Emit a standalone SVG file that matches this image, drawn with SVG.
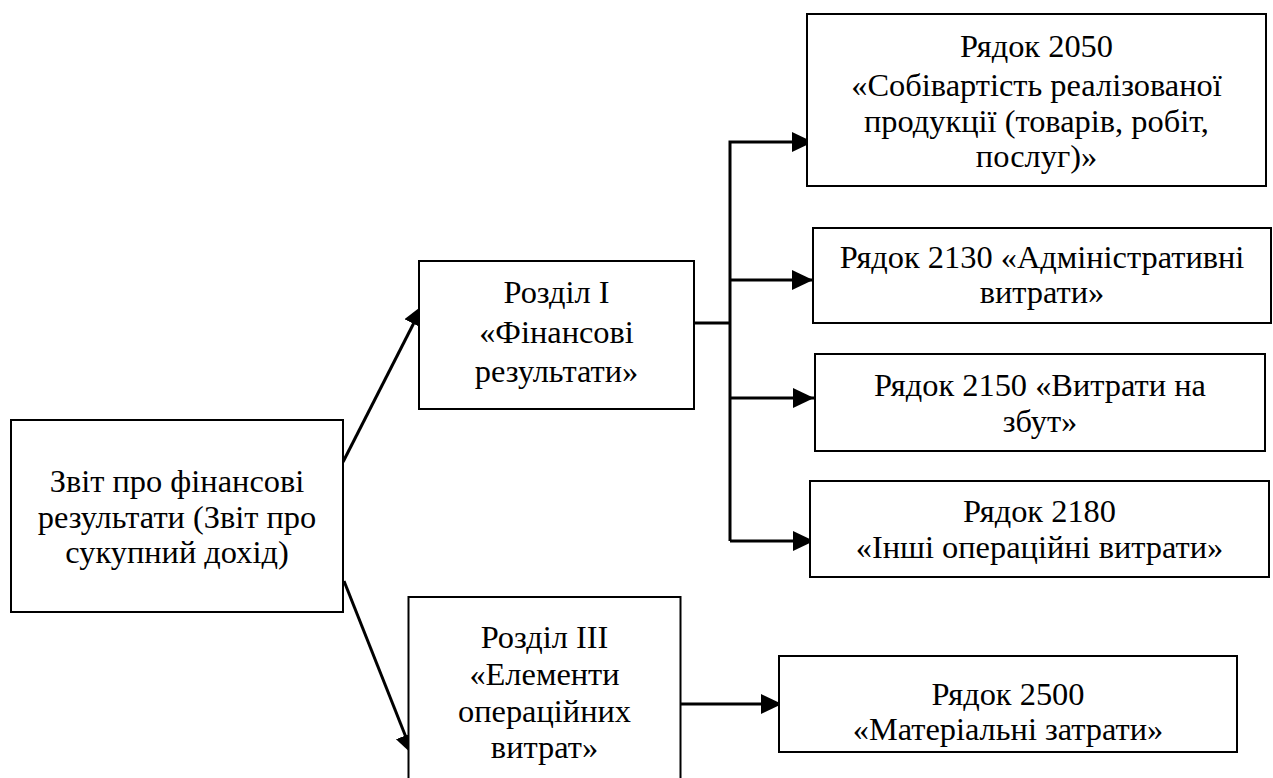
<svg xmlns="http://www.w3.org/2000/svg" width="1273" height="778" viewBox="0 0 1273 778">
<defs>
<style>
.box{fill:#fff;stroke:#000;stroke-width:2}
.t{font-family:'Liberation Serif','Times New Roman',serif;font-size:32.4px;fill:#000;text-anchor:middle}
.c{fill:none;stroke:#000;stroke-width:3}
</style>
<marker id="ah" markerUnits="userSpaceOnUse" markerWidth="22" markerHeight="22" refX="21" refY="10" orient="auto">
<path d="M0,0 L21,10 L0,20 z" fill="#000"/>
</marker>
</defs>
<rect width="1273" height="778" fill="#fff"/>
<g id="connectors">
<line class="c" x1="343" y1="462" x2="423" y2="305" marker-end="url(#ah)"/>
<line class="c" x1="344" y1="581" x2="413" y2="755" marker-end="url(#ah)"/>
<polyline class="c" points="694,323 730,323"/>
<polyline class="c" points="730,541 730,142 813,142" marker-end="url(#ah)"/>
<line class="c" x1="730" y1="280" x2="813" y2="280" marker-end="url(#ah)"/>
<line class="c" x1="730" y1="398" x2="814" y2="398" marker-end="url(#ah)"/>
<line class="c" x1="730" y1="541" x2="814" y2="541" marker-end="url(#ah)"/>
<line class="c" x1="681" y1="704" x2="782" y2="704" marker-end="url(#ah)"/>
</g>
<g font-family="'Liberation Serif', 'Times New Roman', serif">
<g id="n-zvit">
<rect class="box" x="11" y="420" width="332" height="192"/>
<text class="t" x="177" y="492">Звіт про фінансові</text>
<text class="t" x="177" y="528">результати (Звіт про</text>
<text class="t" x="177" y="563">сукупний дохід)</text>
</g>
<g id="n-rozdil1">
<rect class="box" x="419" y="261" width="275" height="148"/>
<text class="t" x="556.5" y="303">Розділ I</text>
<text class="t" x="556.5" y="343">«Фінансові</text>
<text class="t" x="556.5" y="382">результати»</text>
</g>
<g id="n-rozdil3">
<rect class="box" x="408.5" y="597" width="272" height="200"/>
<text class="t" x="544.5" y="648">Розділ III</text>
<text class="t" x="544.5" y="685">«Елементи</text>
<text class="t" x="544.5" y="722">операційних</text>
<text class="t" x="544.5" y="758">витрат»</text>
</g>
<g id="n-2050">
<rect class="box" x="807" y="14" width="459" height="172"/>
<text class="t" x="1036.5" y="57">Рядок 2050</text>
<text class="t" x="1036.5" y="96">«Собівартість реалізованої</text>
<text class="t" x="1036.5" y="132">продукції (товарів, робіт,</text>
<text class="t" x="1036.5" y="167">послуг)»</text>
</g>
<g id="n-2130">
<rect class="box" x="813" y="228" width="458" height="95"/>
<text class="t" x="1042" y="268">Рядок 2130 «Адміністративні</text>
<text class="t" x="1042" y="303">витрати»</text>
</g>
<g id="n-2150">
<rect class="box" x="815" y="354" width="450" height="97"/>
<text class="t" x="1040" y="396">Рядок 2150 «Витрати на</text>
<text class="t" x="1040" y="432">збут»</text>
</g>
<g id="n-2180">
<rect class="box" x="810" y="481" width="459" height="96"/>
<text class="t" x="1039.5" y="522">Рядок 2180</text>
<text class="t" x="1039.5" y="558">«Інші операційні витрати»</text>
</g>
<g id="n-2500">
<rect class="box" x="779" y="656" width="458" height="96"/>
<text class="t" x="1008" y="705">Рядок 2500</text>
<text class="t" x="1008" y="740">«Матеріальні затрати»</text>
</g>
</g>
</svg>
